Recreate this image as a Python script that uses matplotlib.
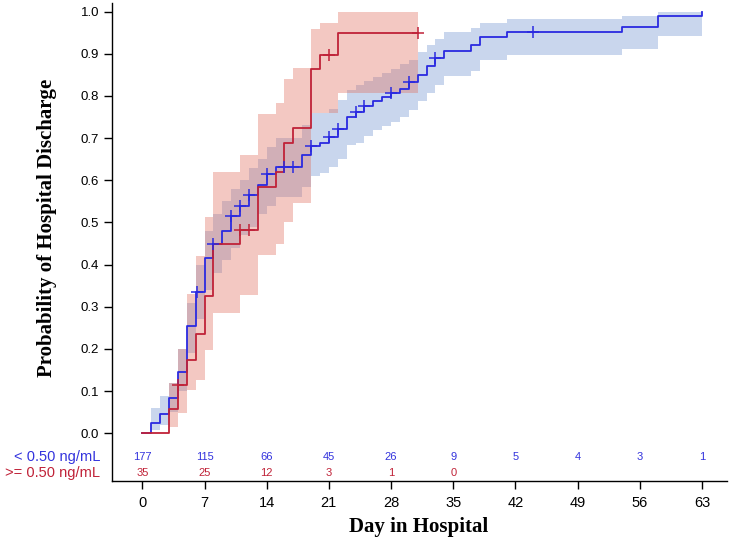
import numpy as np
import matplotlib
matplotlib.use("Agg")
import matplotlib.pyplot as plt
from matplotlib.transforms import blended_transform_factory

# ---------------- data ----------------
blue_t = [0, 1, 2, 3, 4, 5, 6, 7, 8, 9, 10, 11, 12, 13, 14, 15, 18, 19, 20, 21, 22, 23, 24,
          25, 26, 27, 28, 29, 30, 31, 32, 33, 34, 37, 38, 41, 54, 58, 63]
blue_s = [0, 0.024, 0.046, 0.083, 0.146, 0.254, 0.334, 0.415, 0.45, 0.48, 0.515, 0.539, 0.565,
          0.589, 0.614, 0.632, 0.66, 0.681, 0.689, 0.702, 0.721, 0.751, 0.761, 0.776, 0.789,
          0.798, 0.806, 0.816, 0.832, 0.85, 0.87, 0.889, 0.907, 0.921, 0.939, 0.951, 0.963,
          0.99, 1.0]
blue_lo = [0, 0.009, 0.02, 0.05, 0.10, 0.19, 0.27, 0.34, 0.38, 0.41, 0.44, 0.47, 0.49, 0.52,
           0.54, 0.56, 0.585, 0.609, 0.617, 0.631, 0.65, 0.684, 0.689, 0.705, 0.719, 0.729,
           0.739, 0.751, 0.767, 0.787, 0.806, 0.826, 0.847, 0.86, 0.884, 0.897, 0.911, 0.943,
           0.943]
blue_hi = [0, 0.059, 0.088, 0.12, 0.20, 0.31, 0.40, 0.48, 0.52, 0.55, 0.58, 0.60, 0.63, 0.65,
           0.68, 0.70, 0.73, 0.759, 0.76, 0.77, 0.79, 0.814, 0.825, 0.835, 0.845, 0.855, 0.865,
           0.875, 0.885, 0.905, 0.921, 0.934, 0.951, 0.961, 0.974, 0.982, 0.99, 1.0, 1.0]
blue_cens = [6.1, 8, 10, 11, 12, 14, 16, 17, 19, 21, 22, 24, 25, 28, 30, 33, 44]

red_t = [0, 3, 4, 5, 6, 7, 8, 11, 13, 15, 16, 17, 19, 20, 22, 31]
red_s = [0, 0.057, 0.115, 0.174, 0.236, 0.326, 0.449, 0.482, 0.585, 0.62, 0.689, 0.723,
         0.863, 0.897, 0.95, 0.95]
red_lo = [0, 0.016, 0.048, 0.103, 0.126, 0.198, 0.285, 0.328, 0.423, 0.45, 0.50, 0.545,
          0.76, 0.76, 0.806, 0.806]
red_hi = [0, 0.12, 0.20, 0.33, 0.42, 0.514, 0.62, 0.66, 0.757, 0.784, 0.84, 0.866, 0.958,
          0.974, 0.998, 0.998]
red_cens = [4, 11, 12, 21, 31]

risk_days = [0, 7, 14, 21, 28, 35, 42, 49, 56, 63]
risk_blue = ["177", "115", "66", "45", "26", "9", "5", "4", "3", "1"]
risk_red = ["35", "25", "12", "3", "1", "0"]

group_labels = ["< 0.50 ng/mL", ">= 0.50 ng/mL"]
x_ticks = [0, 7, 14, 21, 28, 35, 42, 49, 56, 63]
y_ticks = [0.0, 0.1, 0.2, 0.3, 0.4, 0.5, 0.6, 0.7, 0.8, 0.9, 1.0]

# ---------------- style ----------------
BLUE = "#2a2ae0"
RED = "#c02238"
BLUE_BAND = "#7f9fd6"
RED_BAND = "#e0705f"
SANS = ["Liberation Sans", "DejaVu Sans"]
SERIF = ["Liberation Serif", "DejaVu Serif"]

W, H = 729, 543
fig = plt.figure(figsize=(W / 100, H / 100), dpi=100)
ax = fig.add_axes([0.1532, 0.1142, 0.8438, 0.8808])
ax.set_xlim(-3.45, 65.8)
ax.set_ylim(-0.113, 1.021)


def step_val(t, s, x):
    i = np.searchsorted(np.asarray(t, float), x, side="right") - 1
    return np.asarray(s)[i]


ax.fill_between(blue_t, blue_lo, blue_hi, step="post", color=BLUE_BAND, alpha=0.42,
                linewidth=0, zorder=1)
ax.fill_between(red_t, red_lo, red_hi, step="post", color=RED_BAND, alpha=0.38,
                linewidth=0, zorder=2)

ax.step(blue_t, blue_s, where="post", color=BLUE, lw=1.3, zorder=3)
ax.step(red_t, red_s, where="post", color=RED, lw=1.3, zorder=4)

ax.plot(blue_cens, [step_val(blue_t, blue_s, c) for c in blue_cens], linestyle="none",
        marker="+", markersize=9, markeredgewidth=1.1, color=BLUE, zorder=5)
ax.plot(red_cens, [step_val(red_t, red_s, c) for c in red_cens], linestyle="none",
        marker="+", markersize=9, markeredgewidth=1.1, color=RED, zorder=6)

# at-risk table inside the axes
for d, v in zip(risk_days, risk_blue):
    ax.text(d, -0.056, v, color="#3333dd", fontsize=8, ha="center", va="center",
            family=SANS)
for d, v in zip(risk_days, risk_red):
    ax.text(d, -0.094, v, color=RED, fontsize=8, ha="center", va="center", family=SANS)
tr = blended_transform_factory(ax.transAxes, ax.transData)
ax.text(-0.019, -0.056, group_labels[0], color="#3333dd", fontsize=10.5, ha="right",
        va="center", family=SANS, transform=tr)
ax.text(-0.019, -0.094, group_labels[1], color=RED, fontsize=10.5, ha="right",
        va="center", family=SANS, transform=tr)

ax.spines["top"].set_visible(False)
ax.spines["right"].set_visible(False)
for sp in ("left", "bottom"):
    ax.spines[sp].set_linewidth(1.0)
    ax.spines[sp].set_color("black")

ax.set_xticks(x_ticks)
ax.set_xticklabels([str(v) for v in x_ticks], family=SANS, fontsize=10.5)
ax.set_yticks(y_ticks)
ax.set_yticklabels([f"{v:.1f}" for v in y_ticks], family=SANS, fontsize=9.5)
ax.tick_params(axis="x", length=6, width=1, pad=5, colors="black")
ax.tick_params(axis="y", length=6, width=1, pad=3, colors="black")

fig.text(419 / W, 1 - 527 / H, "Day in Hospital", family=SERIF, fontweight="bold",
         fontsize=15, ha="center", va="center")
fig.text(47 / W, 1 - 228 / H, "Probability of Hospital Discharge", family=SERIF,
         fontweight="bold", fontsize=15, ha="center", va="center", rotation=90)

fig.savefig("out.png", dpi=100)
